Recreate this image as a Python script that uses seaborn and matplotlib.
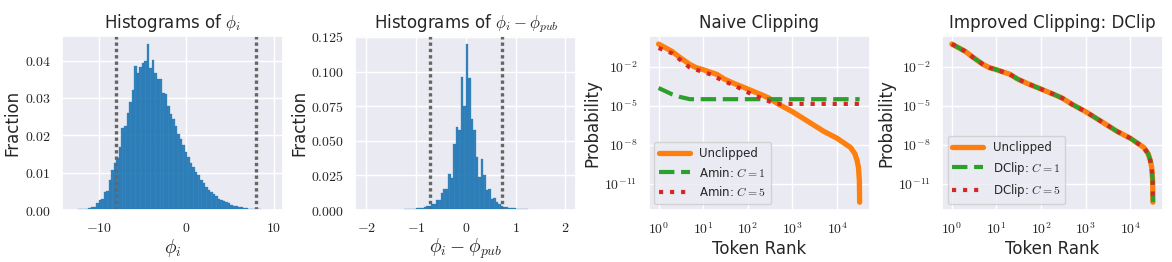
import numpy as np
import pandas as pd
import matplotlib
matplotlib.use("Agg")
import matplotlib.pyplot as plt
import seaborn as sns
from matplotlib.ticker import FuncFormatter

# ---- histogram of phi_i (fraction per bin) ----
phi_bin_start = -12.62
phi_bin_width = 0.29
phi_frac = [0.0001, 0.0002, 0.0002, 0.0003, 0.0004, 0.0005, 0.0008, 0.0009,
            0.0018, 0.0027, 0.0029, 0.0048, 0.0050, 0.0080, 0.0106, 0.0126,
            0.0140, 0.0168, 0.0220, 0.0226, 0.0260, 0.0290, 0.0320, 0.0386,
            0.0367, 0.0384, 0.0394, 0.0398, 0.0443, 0.0379, 0.0401, 0.0367,
            0.0350, 0.0350, 0.0314, 0.0310, 0.0279, 0.0257, 0.0243, 0.0226,
            0.0204, 0.0189, 0.0173, 0.0155, 0.0142, 0.0126, 0.0115, 0.0102,
            0.0093, 0.0081, 0.0073, 0.0062, 0.0053, 0.0049, 0.0042, 0.0038,
            0.0031, 0.0027, 0.0024, 0.0021, 0.0018, 0.0015, 0.0012, 0.0011,
            0.0009, 0.0008, 0.0006, 0.0005, 0.0004, 0.0004, 0.0003, 0.0002,
            0.0002, 0.0001, 0.0001, 0.00005, 0.00003]
phi_clip = [-8, 8]

# ---- histogram of phi_i - phi_pub ----
diff_bin_start = -1.5
diff_bin_width = 0.05
diff_frac = [0.0001, 0.0002, 0.0002, 0.0003, 0.0004, 0.0005, 0.0006, 0.0007,
             0.0008, 0.0010, 0.0012, 0.0015, 0.0018, 0.0021, 0.0028, 0.0030,
             0.0043, 0.0045, 0.0070, 0.0073, 0.0120, 0.0150, 0.0152, 0.0260,
             0.0230, 0.0480, 0.0600, 0.0580, 0.0960, 0.0750,
             0.1195, 0.0950, 0.0660, 0.0580, 0.0380, 0.0240, 0.0370, 0.0250,
             0.0145, 0.0150, 0.0080, 0.0090, 0.0060, 0.0043, 0.0030, 0.0026,
             0.0022, 0.0018, 0.0015, 0.0013, 0.0011, 0.0009, 0.0008, 0.0007,
             0.0005, 0.0004, 0.0003, 0.0002, 0.0002, 0.0001]
diff_clip = [-0.72, 0.72]

# ---- token rank vs probability ----
rank = [1, 2, 3, 5, 7, 10, 20, 30, 50, 100, 200, 300, 500, 1000, 2000,
        5000, 10000, 20000, 25000, 28000, 30000, 31500, 32000]
p_unclipped = [0.54, 0.148, 0.051, 0.0148, 0.0083, 0.0058, 0.0026, 0.0011,
               5.0e-4, 1.9e-4, 7.1e-5, 3.8e-5, 1.26e-5, 3.5e-6, 7.9e-7,
               1.1e-7, 3.2e-8, 6.3e-9, 2.1e-9, 6.3e-10, 2.0e-10, 2.0e-11, 4.0e-13]

amin1_rank = [1, 2, 3, 5, 7, 32000]
amin1_p = [2.3e-4, 7.6e-5, 4.8e-5, 3.2e-5, 3.2e-5, 3.2e-5]

amin5_rank = [1, 2, 3, 5, 8, 15, 27, 47, 79, 131, 232, 407, 32000]
amin5_p = [0.27, 0.107, 0.035, 0.0085, 0.005, 0.0025, 8.5e-4, 4.0e-4,
           1.6e-4, 6.8e-5, 3.2e-5, 1.4e-5, 1.4e-5]

# DClip curves sit on top of the unclipped one
p_dclip1 = p_unclipped
p_dclip5 = p_unclipped

sns.set_theme(style="darkgrid")
plt.rcParams['font.family'] = ['DejaVu Sans']
plt.rcParams['mathtext.fontset'] = 'cm'

title_size = 12
label_size = 12
tick_size = 10
legend_size = 8.5
hist_color = '#1f77b4'
clip_color = '#666666'

fig, axes = plt.subplots(1, 4, figsize=(11.72, 2.62), dpi=100)
fig.subplots_adjust(left=0.0529, right=0.9923, bottom=0.198, top=0.862, wspace=0.326)


def math_fmt(fmt):
    return FuncFormatter(lambda v, p: "$" + format(v, fmt) + "$")


def log_fmt(v, p):
    return "$10^{%d}$" % int(round(np.log10(v)))


def hist_df(start, width, frac):
    edges = start + width * np.arange(len(frac) + 1)
    df = pd.DataFrame({'value': edges[:-1] + width / 2, 'frac': frac})
    return df, edges.tolist()


# panel 1
ax = axes[0]
df_phi, edges = hist_df(phi_bin_start, phi_bin_width, phi_frac)
sns.histplot(data=df_phi, x='value', weights='frac', bins=edges, ax=ax,
             color=hist_color, alpha=0.9, linewidth=0.2, edgecolor=hist_color)
for c in phi_clip:
    ax.axvline(c, color=clip_color, lw=2.4, ls=(0, (1, 0.9)))
ax.set_xlim(-14.2, 11.1)
ax.set_xticks([-10, 0, 10])
ax.set_yticks([0.0, 0.01, 0.02, 0.03, 0.04])
ax.xaxis.set_major_formatter(math_fmt('g'))
ax.yaxis.set_major_formatter(math_fmt('.2f'))
ax.set_title(r"Histograms of $\phi_i$", fontsize=title_size)
ax.set_xlabel(r"$\phi_i$", fontsize=14, labelpad=1)
ax.set_ylabel("Fraction", fontsize=label_size, labelpad=2)

# panel 2
ax = axes[1]
df_diff, edges = hist_df(diff_bin_start, diff_bin_width, diff_frac)
sns.histplot(data=df_diff, x='value', weights='frac', bins=edges, ax=ax,
             color=hist_color, alpha=0.9, linewidth=0.2, edgecolor=hist_color)
for c in diff_clip:
    ax.axvline(c, color=clip_color, lw=2.4, ls=(0, (1, 0.9)))
ax.set_xlim(-2.22, 2.22)
ax.set_ylim(0, 0.1255)
ax.set_xticks([-2, -1, 0, 1, 2])
ax.set_yticks([0.0, 0.025, 0.05, 0.075, 0.1, 0.125])
ax.xaxis.set_major_formatter(math_fmt('g'))
ax.yaxis.set_major_formatter(math_fmt('.3f'))
ax.set_title(r"Histograms of $\phi_i - \phi_{pub}$", fontsize=title_size)
ax.set_xlabel(r"$\phi_i - \phi_{pub}$", fontsize=14, labelpad=1)
ax.set_ylabel("Fraction", fontsize=label_size, labelpad=2)

# panels 3 and 4
curves = [
    (axes[2], "Naive Clipping", "Amin",
     (amin1_rank, amin1_p), (amin5_rank, amin5_p)),
    (axes[3], "Improved Clipping: DClip", "DClip",
     (rank, p_dclip1), (rank, p_dclip5)),
]
for ax, title, name, c1, c5 in curves:
    ax.set(xscale='log', yscale='log')
    sns.lineplot(x=rank, y=p_unclipped, ax=ax, color='#ff7f0e', lw=3.8,
                 label="Unclipped")
    sns.lineplot(x=c1[0], y=c1[1], ax=ax, color='#2ca02c', lw=3, ls='--',
                 label=name + r": $C=1$")
    sns.lineplot(x=c5[0], y=c5[1], ax=ax, color='#d62728', lw=3, ls=':',
                 label=name + r": $C=5$")
    ax.set_xticks([1, 10, 100, 1000, 10000])
    ax.set_yticks([1e-11, 1e-8, 1e-5, 1e-2])
    ax.minorticks_off()
    ax.xaxis.set_major_formatter(FuncFormatter(log_fmt))
    ax.yaxis.set_major_formatter(FuncFormatter(log_fmt))
    ax.set_title(title, fontsize=title_size)
    ax.set_xlabel("Token Rank", fontsize=label_size, labelpad=2)
    ax.set_ylabel("Probability", fontsize=label_size, labelpad=2)
    ax.legend(loc='lower left', fontsize=legend_size, handlelength=2.6)

for ax in axes:
    ax.tick_params(labelsize=tick_size, pad=2)

fig.savefig('out.png', dpi=100)
